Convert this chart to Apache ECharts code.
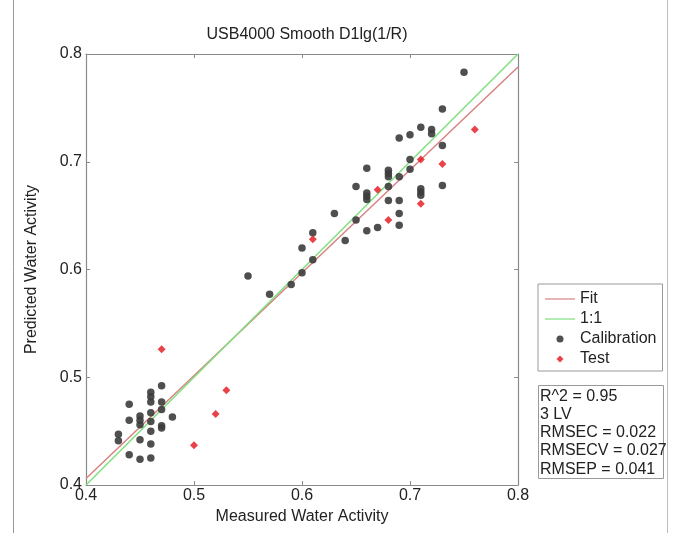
<!DOCTYPE html>
<html>
<head>
<meta charset="utf-8">
<script src="https://cdn.jsdelivr.net/npm/echarts@6/dist/echarts.min.js"></script>
<style>
  html, body { margin: 0; padding: 0; background: #fff; }
  #main { width: 680px; height: 533px; }
</style>
</head>
<body>
<div id="main"></div>
<script>
// measured / predicted pairs
const calibration = [
  [0.47, 0.492], [0.46, 0.486], [0.46, 0.482], [0.46, 0.477], [0.44, 0.475],
  [0.47, 0.477], [0.47, 0.470], [0.46, 0.467], [0.45, 0.464], [0.45, 0.460],
  [0.45, 0.456], [0.46, 0.459], [0.44, 0.460], [0.48, 0.463], [0.47, 0.455],
  [0.47, 0.453], [0.46, 0.450], [0.43, 0.447], [0.43, 0.441], [0.45, 0.442],
  [0.46, 0.438], [0.44, 0.428], [0.45, 0.424], [0.46, 0.425],
  [0.55, 0.594], [0.57, 0.577], [0.59, 0.586], [0.60, 0.597], [0.61, 0.609],
  [0.60, 0.620], [0.61, 0.634], [0.63, 0.652], [0.64, 0.627],
  [0.65, 0.677], [0.65, 0.646], [0.66, 0.694], [0.66, 0.671], [0.66, 0.668],
  [0.66, 0.665], [0.66, 0.636], [0.67, 0.639],
  [0.68, 0.692], [0.68, 0.689], [0.68, 0.686], [0.68, 0.677], [0.68, 0.664],
  [0.69, 0.686], [0.69, 0.664], [0.69, 0.652], [0.69, 0.641],
  [0.69, 0.722], [0.70, 0.725], [0.70, 0.702], [0.70, 0.693],
  [0.71, 0.732], [0.71, 0.675], [0.71, 0.672], [0.71, 0.669],
  [0.72, 0.730], [0.72, 0.726], [0.73, 0.749], [0.73, 0.715], [0.73, 0.678],
  [0.75, 0.783]
]
const test = [
  [0.47, 0.526], [0.50, 0.437], [0.52, 0.466], [0.53, 0.488],
  [0.61, 0.628], [0.67, 0.674], [0.68, 0.646], [0.71, 0.702],
  [0.71, 0.661], [0.73, 0.698], [0.76, 0.730]
]
const fitLine = [[0.4, 0.406], [0.8, 0.788]]
const oneToOne = [[0.4, 0.4], [0.8, 0.8]]
const statsLines = ['R^2 = 0.95', '3 LV', 'RMSEC = 0.022', 'RMSECV = 0.027', 'RMSEP = 0.041']

const font = 'Liberation Sans, Arial, sans-serif'
const axisGray = '#8a8a8a'
const lineIcon = 'path://M0,0L30,0L30,1.2L0,1.2Z'
const diamondIcon = 'path://M0,-1L1,0L0,1L-1,0Z'
const circleIcon = 'path://M1,0A1,1,0,1,1,-1,0A1,1,0,1,1,1,0Z'

let myChart = echarts.init(document.getElementById('main'))

let boxAxis = function (pos) {
  return {
    type: 'value',
    position: pos,
    min: 0.4,
    max: 0.8,
    interval: 0.1,
    axisLine: { show: true, onZero: false, lineStyle: { color: axisGray, width: 1.2 } },
    axisTick: { show: true, inside: true, length: 4, lineStyle: { color: axisGray } },
    axisLabel: { show: false },
    splitLine: { show: false }
  }
}

let options = {
  animation: false,
  backgroundColor: '#fff',
  textStyle: { fontFamily: font },
  title: {
    text: 'USB4000 Smooth D1lg(1/R)',
    left: 302,
    textAlign: 'center',
    top: 22,
    textStyle: { fontFamily: font, fontSize: 16, fontWeight: 'normal', color: '#222' }
  },
  grid: { left: 86, right: 162, top: 54, bottom: 48 },
  legend: {
    orient: 'vertical',
    left: 538,
    top: 284,
    padding: [7, 6, 4, 7],
    itemGap: 4,
    itemWidth: 30,
    itemHeight: 7,
    symbolKeepAspect: true,
    borderColor: '#999',
    borderWidth: 1,
    backgroundColor: '#fff',
    textStyle: { fontFamily: font, fontSize: 16, color: '#222' },
    data: [
      { name: 'Fit', icon: lineIcon },
      { name: '1:1', icon: lineIcon },
      { name: 'Calibration', icon: circleIcon },
      { name: 'Test', icon: diamondIcon }
    ]
  },
  xAxis: [
    {
      type: 'value',
      min: 0.4,
      max: 0.8,
      interval: 0.1,
      name: 'Measured Water Activity',
      nameLocation: 'middle',
      nameGap: 21,
      nameTextStyle: { fontFamily: font, fontSize: 16, color: '#222' },
      axisLine: { show: true, onZero: false, lineStyle: { color: axisGray, width: 1.2 } },
      axisTick: { show: true, inside: true, length: 4, lineStyle: { color: axisGray } },
      axisLabel: { margin: 3, fontFamily: font, fontSize: 16, color: '#222', formatter: v => v.toFixed(1) },
      splitLine: { show: false }
    },
    boxAxis('top')
  ],
  yAxis: [
    {
      type: 'value',
      min: 0.4,
      max: 0.8,
      interval: 0.1,
      name: 'Predicted Water Activity',
      nameLocation: 'middle',
      nameGap: 46,
      nameTextStyle: { fontFamily: font, fontSize: 16, color: '#222' },
      axisLine: { show: true, onZero: false, lineStyle: { color: axisGray, width: 1.2 } },
      axisTick: { show: true, inside: true, length: 4, lineStyle: { color: axisGray } },
      axisLabel: { margin: 4, fontFamily: font, fontSize: 16, color: '#222', formatter: v => v.toFixed(1) },
      splitLine: { show: false }
    },
    boxAxis('right')
  ],
  series: [
    {
      name: 'Fit',
      type: 'line',
      data: fitLine,
      symbol: 'none',
      color: '#d98282',
      lineStyle: { width: 1.5, color: '#d98282' },
      z: 3
    },
    {
      name: '1:1',
      type: 'line',
      data: oneToOne,
      symbol: 'none',
      color: '#7fe07f',
      lineStyle: { width: 1.5, color: '#7fe07f' },
      z: 3
    },
    {
      name: 'Calibration',
      type: 'scatter',
      data: calibration,
      symbol: 'circle',
      symbolSize: 7.5,
      itemStyle: { color: '#3c3c3c', opacity: 0.9 },
      z: 4
    },
    {
      name: 'Test',
      type: 'scatter',
      data: test,
      symbol: 'diamond',
      symbolSize: 8,
      itemStyle: { color: '#e3141b' },
      z: 5
    }
  ],
  graphic: [
    { type: 'line', shape: { x1: 13.5, y1: 0, x2: 13.5, y2: 533 }, style: { stroke: '#9a9a9a', lineWidth: 1 } },
    { type: 'line', shape: { x1: 667.5, y1: 0, x2: 667.5, y2: 533 }, style: { stroke: '#bdbdbd', lineWidth: 1 } },
    {
      type: 'rect',
      left: 538,
      top: 385,
      shape: { width: 125, height: 93 },
      style: { fill: '#fff', stroke: '#999', lineWidth: 1 }
    },
    {
      type: 'text',
      left: 540,
      top: 387,
      style: {
        text: statsLines.join('\n'),
        font: '16px ' + font,
        lineHeight: 18.3,
        fill: '#222'
      }
    }
  ]
}

myChart.setOption(options)
</script>
</body>
</html>
